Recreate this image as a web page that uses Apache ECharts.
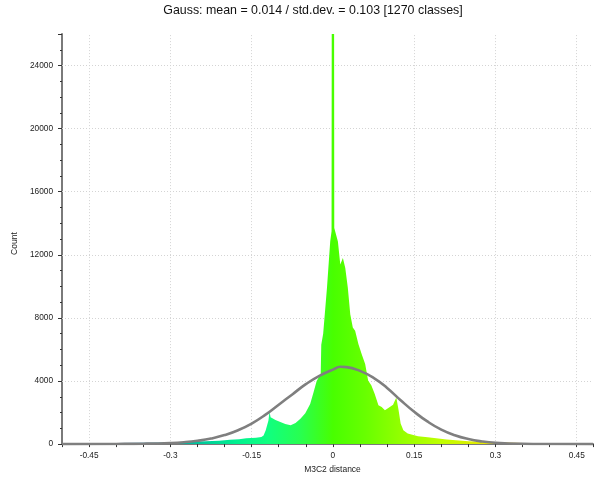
<!DOCTYPE html>
<html>
<head>
<meta charset="utf-8">
<script src="https://cdn.jsdelivr.net/npm/echarts@6/dist/echarts.min.js"></script>
<style>
  html, body { margin: 0; padding: 0; background: #fff; }
  #chart { width: 596px; height: 479px; }
</style>
</head>
<body>
<div id="chart"></div>
<script>
// histogram silhouette (class value -> count)
var histX = [-0.5, -0.45, -0.4, -0.35, -0.3, -0.26, -0.21, -0.19, -0.173, -0.16, -0.142, -0.132, -0.128, -0.124,
    -0.119, -0.117, -0.115, -0.113, -0.106, -0.097, -0.088, -0.078, -0.069, -0.06, -0.051, -0.042, -0.036, -0.03,
    -0.0225, -0.0215, -0.018, -0.011, -0.005, -0.0025, -0.0022, 0.0022, 0.0025, 0.0044, 0.0092, 0.0136, 0.0184,
    0.0228, 0.0275, 0.032, 0.0367, 0.041, 0.047, 0.053, 0.0595, 0.065, 0.071, 0.077, 0.084, 0.09, 0.096, 0.105,
    0.111, 0.117, 0.121, 0.125, 0.13, 0.138, 0.157, 0.175, 0.21, 0.25, 0.3, 0.35, 0.4, 0.45, 0.48];
var histCount = [50, 55, 65, 80, 100, 145, 210, 280, 300, 370, 400, 450, 550, 880,
    1500, 2050, 1700, 1620, 1520, 1400, 1270, 1200, 1330, 1600, 1950, 2550, 3250, 4000,
    4450, 6300, 7000, 9900, 12850, 13500, 26000, 26000, 13700, 13600, 12850, 11380, 11800,
    11170, 9910, 8230, 7390, 7180, 6340, 5710, 5080, 4030, 3720, 3200, 2460, 2350, 2150, 2350,
    2500, 2950, 2200, 1300, 880, 670, 500, 440, 290, 180, 110, 75, 60, 40, 30];

// gauss curve as drawn
var gaussX = [-0.5, -0.4, -0.35, -0.3, -0.275, -0.25, -0.225, -0.2, -0.175, -0.15, -0.125, -0.1, -0.075, -0.05,
    -0.025, 0, 0.014, 0.025, 0.05, 0.075, 0.1, 0.125, 0.15, 0.175, 0.2, 0.225, 0.25, 0.275, 0.3, 0.35, 0.4, 0.48];
var gaussCount = [0, 10, 25, 70, 120, 210, 350, 570, 880, 1300, 1850, 2500, 3150, 3800,
    4330, 4720, 4900, 4880, 4640, 4200, 3560, 2780, 2050, 1420, 920, 560, 320, 170, 85, 20, 5, 0];

var xTicks = [-0.45, -0.3, -0.15, 0, 0.15, 0.3, 0.45];
var yTicks = [4000, 8000, 12000, 16000, 20000, 24000];

// colour scale along the distance axis
var scaleValues = [-0.5, -0.38, -0.28, -0.18, -0.12, -0.06, 0, 0.06, 0.12, 0.2, 0.3, 0.4, 0.48];
var scaleColors = ['#1030e0', '#0070c0', '#00b0a0', '#00f090', '#10ff80', '#28ff50', '#48ff00',
    '#68ff00', '#90ff00', '#c0ff00', '#f0e000', '#ff9000', '#ff2000'];

var xMin = -0.5, xMax = 0.48;

var myChart = echarts.init(document.getElementById('chart'));

var histData = histX.map(function(x, i) { return [x, histCount[i]]; });
var gaussData = gaussX.map(function(x, i) { return [x, gaussCount[i]]; });
var stops = scaleValues.map(function(v, i) {
    return { offset: (v - xMin) / (xMax - xMin), color: scaleColors[i] };
});

var gridLine = { color: '#d4d4d4', width: 1, type: [1, 2] };
var smallFont = { fontFamily: 'Liberation Sans', fontSize: 8.3, color: '#222' };

var option = {
    backgroundColor: '#fff',
    animation: false,
    title: {
        text: 'Gauss: mean = 0.014 / std.dev. = 0.103 [1270 classes]',
        left: 313,
        top: 5,
        padding: 0,
        textAlign: 'center',
        textStyle: { fontFamily: 'Liberation Sans', fontSize: 12.4, fontWeight: 'normal', color: '#111' }
    },
    grid: { left: 62, right: 0, top: 34, bottom: 32 },
    xAxis: {
        type: 'value',
        min: xMin,
        max: xMax,
        interval: 0.05,
        name: 'M3C2 distance',
        nameLocation: 'middle',
        nameGap: 19,
        nameTextStyle: { fontFamily: 'Liberation Sans', fontSize: 8.5, color: '#222', padding: [0, 0, 0, 10] },
        axisLine: { onZero: false, lineStyle: { color: '#7a7a7a', width: 2 } },
        axisTick: { length: 3, lineStyle: { color: '#333' } },
        axisLabel: {
            margin: 8,
            fontFamily: smallFont.fontFamily, fontSize: smallFont.fontSize, color: smallFont.color,
            formatter: function(v) {
                var k = v / 0.15;
                if (Math.abs(k - Math.round(k)) > 1e-6) return '';
                return String(+v.toFixed(2));
            }
        },
        splitLine: { show: false }
    },
    yAxis: {
        type: 'value',
        min: 0,
        max: 26000,
        interval: 4000,
        name: 'Count',
        nameLocation: 'middle',
        nameGap: 40,
        nameRotate: 90,
        nameTextStyle: { fontFamily: 'Liberation Sans', fontSize: 8.5, color: '#222', padding: [0, 9, 0, 0] },
        axisLine: { show: true, onZero: false, lineStyle: { color: '#7a7a7a', width: 2 } },
        axisTick: { show: true, length: 4, lineStyle: { color: '#333' } },
        minorTick: { show: true, splitNumber: 4, length: 2, lineStyle: { color: '#333' } },
        axisLabel: {
            margin: 9,
            showMaxLabel: false,
            fontFamily: smallFont.fontFamily, fontSize: smallFont.fontSize, color: smallFont.color,
            formatter: function(v) { return String(v); }
        },
        splitLine: { show: false }
    },
    series: [
        {
            name: 'histogram',
            type: 'line',
            data: histData,
            showSymbol: false,
            symbol: 'none',
            z: 2,
            lineStyle: { width: 0 },
            areaStyle: {
                opacity: 1,
                color: new echarts.graphic.LinearGradient(0, 0, 1, 0, stops)
            },
            markLine: {
                z: 1,
                silent: true,
                symbol: 'none',
                label: { show: false },
                lineStyle: gridLine,
                data: xTicks.map(function(v) { return { xAxis: v }; })
                    .concat(yTicks.map(function(v) { return { yAxis: v }; }))
            }
        },
        {
            name: 'gauss',
            type: 'line',
            data: gaussData,
            smooth: true,
            showSymbol: false,
            symbol: 'none',
            z: 3,
            lineStyle: { color: '#7f7f7f', width: 2.6 }
        }
    ]
};
myChart.setOption(option);
</script>
</body>
</html>
